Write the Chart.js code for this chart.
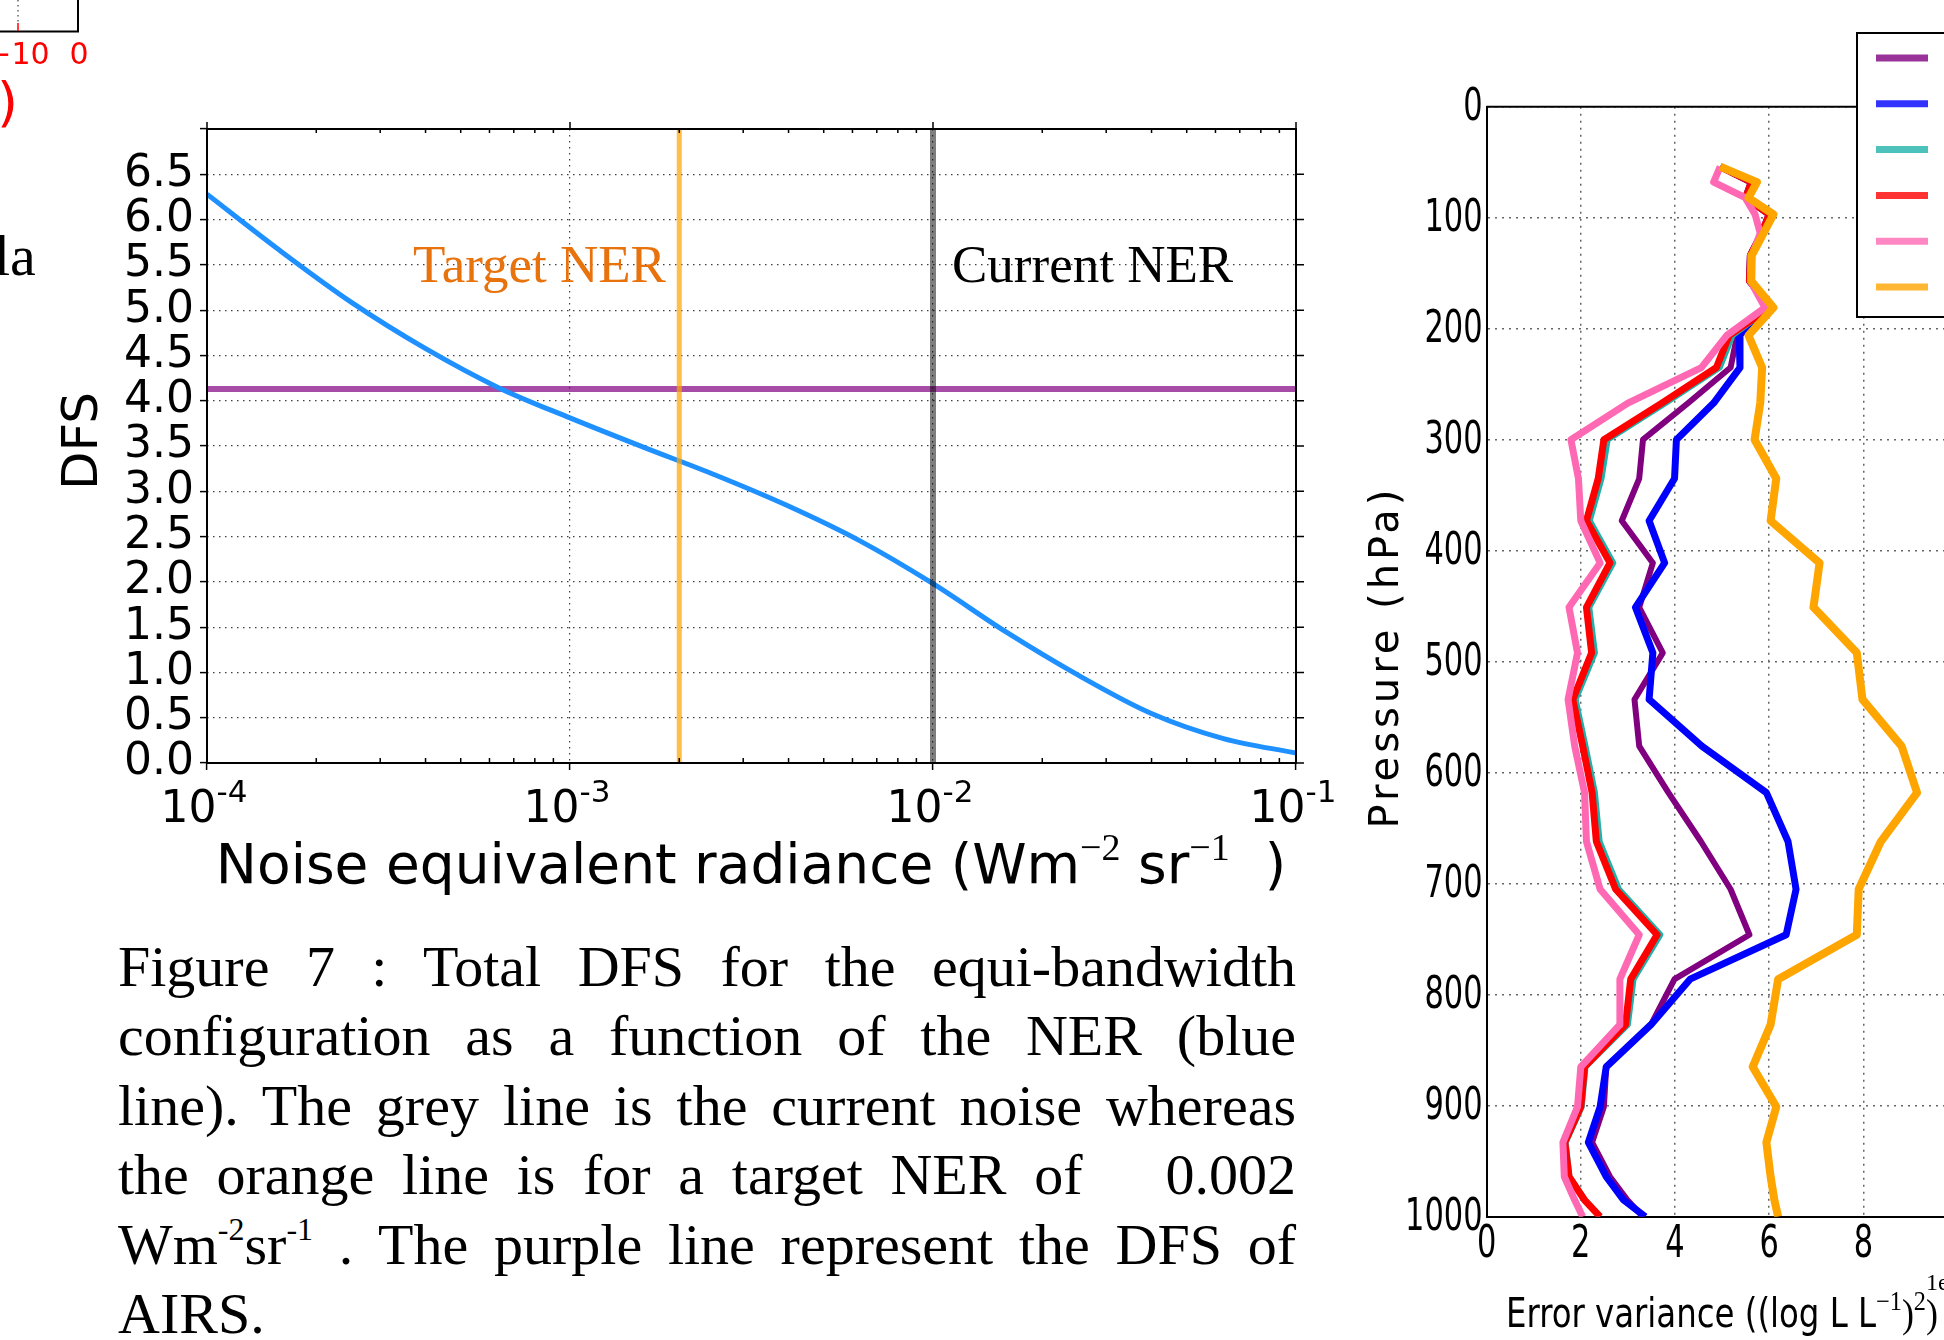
<!DOCTYPE html>
<html>
<head>
<meta charset="utf-8">
<script src="https://cdn.jsdelivr.net/npm/chart.js@4.4.0/dist/chart.umd.min.js"></script>
<style>
  html, body { margin: 0; padding: 0; background: #fff; }
  body { width: 1944px; height: 1340px; overflow: hidden; position: relative; }
  #dfsChart { position: absolute; left: 0; top: 0; }
  #errChart { position: absolute; left: 1340px; top: 0; }
  #caption { position: absolute; left: 118px; top: 932px; width: 1178px;
    font-family: 'Liberation Serif', 'DejaVu Serif', serif; font-size: 58px; line-height: 69.4px; color: #000; }
  #caption div { text-align: justify; text-align-last: justify; }
  #caption div.last { text-align-last: left; }
  #caption sup { font-size: 32px; line-height: 0; vertical-align: 24px; }
</style>
</head>
<body>
<canvas id="dfsChart" width="1340" height="930"></canvas>
<canvas id="errChart" width="800" height="1340"></canvas>
<div id="caption">
  <div>Figure 7 : Total DFS for the equi-bandwidth</div>
  <div>configuration as a function of the NER (blue</div>
  <div>line). The grey line is the current noise whereas</div>
  <div>the orange line is for a target NER of &nbsp; 0.002</div>
  <div>Wm<sup>-2</sup>sr<sup>-1</sup> . The purple line represent the DFS of</div>
  <div class="last">AIRS.</div>
</div>
<script>
// left chart: total DFS vs noise equivalent radiance
const nerValues = [1e-4, 1.585e-4, 2.512e-4, 3.981e-4, 6.31e-4, 1e-3, 1.585e-3, 2.512e-3, 3.981e-3, 6.31e-3, 1e-2, 1.585e-2, 2.512e-2, 3.981e-2, 6.31e-2, 1e-1];
const dfsValues = [6.28, 5.66, 5.08, 4.58, 4.15, 3.81, 3.49, 3.18, 2.84, 2.45, 1.98, 1.45, 0.97, 0.55, 0.27, 0.11];
const airsDfs = 4.13;
const targetNer = 0.002;
const currentNer = 0.01;
const nerTicks = [1e-4, 1e-3, 1e-2, 1e-1];

// right chart: error variance profiles
const pressureLevels = [54, 68, 82, 97, 114, 134, 157, 181, 206, 235, 267, 300, 335, 373, 411, 451, 492, 534, 576, 618, 662, 705, 746, 786, 827, 865, 901, 933, 964, 985, 1000];
const purpleErr = [4.96, 5.62, 5.50, 6.00, 5.84, 5.60, 5.58, 6.02, 5.32, 5.18, 4.28, 3.32, 3.24, 2.87, 3.53, 3.24, 3.74, 3.14, 3.24, 3.86, 4.55, 5.18, 5.58, 3.99, 3.49, 2.54, 2.49, 2.24, 2.62, 2.99, 3.32];
const blueErr = [4.96, 5.62, 5.50, 6.00, 5.84, 5.60, 5.58, 6.02, 5.36, 5.38, 4.82, 4.03, 3.99, 3.45, 3.78, 3.16, 3.53, 3.45, 4.57, 5.94, 6.40, 6.57, 6.36, 4.32, 3.49, 2.54, 2.41, 2.16, 2.54, 2.91, 3.37];
const tealErr = [4.96, 5.62, 5.50, 6.00, 5.84, 5.60, 5.58, 6.02, 5.22, 4.95, 3.80, 2.57, 2.44, 2.19, 2.69, 2.18, 2.30, 1.89, 2.10, 2.30, 2.40, 2.81, 3.69, 3.12, 3.00, 2.10, 2.02, 1.68, 1.76, 2.09, 2.41];
const redErr = [4.96, 5.62, 5.50, 6.00, 5.84, 5.60, 5.58, 6.02, 5.15, 4.88, 3.72, 2.49, 2.37, 2.12, 2.62, 2.12, 2.23, 1.83, 2.04, 2.24, 2.33, 2.74, 3.62, 3.06, 2.95, 2.08, 2.00, 1.66, 1.75, 2.08, 2.41];
const pinkErr = [4.96, 4.82, 5.49, 5.70, 5.81, 5.63, 5.60, 5.91, 5.10, 4.56, 3.00, 1.79, 1.95, 2.00, 2.41, 1.75, 1.93, 1.73, 1.87, 2.08, 2.12, 2.41, 3.24, 2.83, 2.83, 2.00, 1.93, 1.62, 1.65, 1.87, 2.04];
const orangeErr = [4.96, 5.74, 5.56, 6.09, 5.88, 5.63, 5.62, 6.09, 5.56, 5.85, 5.81, 5.69, 6.15, 6.03, 7.07, 6.94, 7.86, 7.98, 8.81, 9.14, 8.37, 7.90, 7.86, 6.19, 6.03, 5.65, 6.15, 5.94, 6.03, 6.11, 6.19];

const mainFont = "'DejaVu Sans'";
const serifFont = "'Liberation Serif', 'DejaVu Serif', serif";
const narrowFont = "'Liberation Sans Narrow', 'DejaVu Sans Condensed', 'Arial Narrow', sans-serif";

const toPoints = (xs, ys) => xs.map((v, i) => ({ x: v, y: ys[i] }));
const profile = vals => pressureLevels.map((p, i) => ({ x: vals[i], y: p }));

// draws text pieces one after another, [text, font, dy]
function drawPieces(ctx, pieces, x0, baseline) {
  let x = x0;
  pieces.forEach(([t, f, dy]) => {
    ctx.font = f;
    ctx.fillText(t, x, baseline - (dy || 0));
    x += ctx.measureText(t).width;
  });
}
function piecesWidth(ctx, pieces) {
  let w = 0;
  pieces.forEach(([t, f]) => { ctx.font = f; w += ctx.measureText(t).width; });
  return w;
}
// narrow-looking label: squeeze horizontally
function squeezedText(ctx, text, x, y, k, align) {
  ctx.save();
  ctx.translate(x, y);
  ctx.scale(k, 1);
  ctx.textAlign = align;
  ctx.fillText(text, 0, 0);
  ctx.restore();
}

const dfsDecor = {
  id: 'dfsDecor',
  afterDraw(chart) {
    const { ctx, chartArea: { left, right, top, bottom }, scales: { x, y } } = chart;
    ctx.save();
    // bits of the figure above
    ctx.strokeStyle = '#000';
    ctx.lineWidth = 2;
    ctx.beginPath();
    ctx.moveTo(0, 31.5); ctx.lineTo(78, 31.5); ctx.lineTo(78, 0);
    ctx.stroke();
    ctx.strokeStyle = '#666';
    ctx.lineWidth = 1.5;
    ctx.setLineDash([1.5, 3.5]);
    ctx.beginPath(); ctx.moveTo(18, 0); ctx.lineTo(18, 22); ctx.stroke();
    ctx.setLineDash([]);
    ctx.strokeStyle = '#f00';
    ctx.beginPath(); ctx.moveTo(18, 23); ctx.lineTo(18, 31); ctx.stroke();
    ctx.fillStyle = '#f00';
    ctx.textAlign = 'center';
    ctx.font = `30px ${mainFont}`;
    ctx.fillText('\u221210', 18, 64);
    ctx.fillText('0', 79, 64);
    ctx.textAlign = 'left';
    ctx.font = `54px ${mainFont}`;
    ctx.fillText(')', -3, 121);
    ctx.fillStyle = '#000';
    ctx.font = `58px ${serifFont}`;
    ctx.fillText('la', -6, 275);

    // frame
    ctx.strokeStyle = '#000';
    ctx.lineWidth = 2;
    ctx.strokeRect(left, top, right - left, bottom - top);
    // ticks on top / right, minor ticks inside
    ctx.lineWidth = 1.5;
    ctx.beginPath();
    nerTicks.forEach(v => {
      const px = x.getPixelForValue(v);
      ctx.moveTo(px, top); ctx.lineTo(px, top - 7);
    });
    y.ticks.forEach(t => {
      if (t.value >= 7) return;
      const py = y.getPixelForValue(t.value);
      ctx.moveTo(right, py); ctx.lineTo(right + 8, py);
    });
    for (let d = -4; d < -1; d++) {
      for (let m = 2; m < 10; m++) {
        const px = x.getPixelForValue(m * Math.pow(10, d));
        ctx.moveTo(px, top); ctx.lineTo(px, top + 4);
        ctx.moveTo(px, bottom); ctx.lineTo(px, bottom - 5);
      }
    }
    ctx.stroke();

    // x tick labels 10^n
    ctx.fillStyle = '#000';
    ctx.textAlign = 'left';
    nerTicks.forEach(v => {
      const exp = String(Math.round(Math.log10(v)));
      const pieces = [['10', `44px ${mainFont}`, 0], [exp, `31px ${mainFont}`, 20]];
      const w = piecesWidth(ctx, pieces);
      drawPieces(ctx, pieces, x.getPixelForValue(v) - w / 2 - 3, 822);
    });

    // x title
    const xt = [
      ['Noise equivalent radiance (Wm', `55px ${mainFont}`, 0],
      ['\u22122', `38px ${serifFont}`, 23],
      [' sr', `55px ${mainFont}`, 0],
      ['\u22121', `38px ${serifFont}`, 23],
      ['  )', `55px ${mainFont}`, 0]
    ];
    drawPieces(ctx, xt, 751 - piecesWidth(ctx, xt) / 2, 883);

    // y title
    ctx.save();
    ctx.translate(79, 441);
    ctx.rotate(-Math.PI / 2);
    ctx.textAlign = 'center';
    ctx.font = `50px ${mainFont}`;
    ctx.fillText('DFS', 0, 18);
    ctx.restore();

    // line annotations
    ctx.font = `53px ${serifFont}`;
    ctx.fillStyle = '#E8720C';
    ctx.fillText('Target NER', 413, 282);
    ctx.fillStyle = '#000';
    ctx.fillText('Current NER', 952, 282);
    ctx.restore();
  }
};

new Chart(document.getElementById('dfsChart'), {
  type: 'scatter',
  data: {
    datasets: [
      { label: 'Current NER', data: [{ x: currentNer, y: 0 }, { x: currentNer, y: 7 }],
        borderColor: 'rgba(0,0,0,0.5)', borderWidth: 6, order: 0 },
      { label: 'Target NER', data: [{ x: targetNer, y: 0 }, { x: targetNer, y: 7 }],
        borderColor: 'rgba(255,165,0,0.72)', borderWidth: 5, order: 1 },
      { label: 'DFS', data: toPoints(nerValues, dfsValues),
        borderColor: '#1E90FF', borderWidth: 5, cubicInterpolationMode: 'monotone', order: 2 },
      { label: 'AIRS', data: [{ x: nerTicks[0], y: airsDfs }, { x: nerTicks[3], y: airsDfs }],
        borderColor: 'rgba(128,0,128,0.7)', borderWidth: 6, order: 3 }
    ].map(d => Object.assign({ showLine: true, pointRadius: 0, fill: false }, d))
  },
  options: {
    responsive: false,
    animation: false,
    events: [],
    layout: { padding: { left: 0, right: 44, top: 129, bottom: 0 } },
    plugins: { legend: { display: false }, tooltip: { enabled: false } },
    scales: {
      x: {
        type: 'logarithmic', min: 1e-4, max: 1e-1,
        afterBuildTicks: s => { s.ticks = nerTicks.map(v => ({ value: v })); },
        afterFit: s => { s.height = 167; },
        ticks: { display: false },
        grid: { color: 'rgba(0,0,0,0.75)', lineWidth: 1.2, tickLength: 7, tickColor: '#000', tickWidth: 1.5 },
        border: { display: false, dash: [1.5, 4.5] }
      },
      y: {
        min: 0, max: 7,
        afterFit: s => { s.width = 207; },
        ticks: { stepSize: 0.5, autoSkip: false, padding: 6, color: '#000',
          font: { family: mainFont, size: 44, lineHeight: 1 },
          callback: v => (v >= 7 ? '' : v.toFixed(1)) },
        grid: { color: 'rgba(0,0,0,0.75)', lineWidth: 1.2, tickLength: 7, tickColor: '#000', tickWidth: 1.5 },
        border: { display: false, dash: [1.5, 4.5] }
      }
    }
  },
  plugins: [dfsDecor]
});

// right chart
const legendColors = ['#800080', '#0000FF', '#20B2AA', '#FF0000', '#FF69B4', '#FFA500'];
const errDecor = {
  id: 'errDecor',
  afterDraw(chart) {
    const { ctx, chartArea: { left, right, top, bottom }, scales: { x, y } } = chart;
    ctx.save();
    ctx.strokeStyle = '#000';
    ctx.lineWidth = 2;
    ctx.beginPath(); ctx.moveTo(left, top); ctx.lineTo(right, top); ctx.stroke();
    // legend box, labels fall off the page
    ctx.fillStyle = '#fff';
    ctx.fillRect(517, 33, 300, 284);
    ctx.strokeRect(517, 33, 300, 284);
    ctx.lineWidth = 7;
    legendColors.forEach((c, i) => {
      ctx.strokeStyle = c;
      ctx.globalAlpha = 0.8;
      ctx.beginPath();
      ctx.moveTo(536, 58 + i * 45.8); ctx.lineTo(588, 58 + i * 45.8);
      ctx.stroke();
    });
    ctx.globalAlpha = 1;
    ctx.fillStyle = '#000';

    // tick labels, condensed
    ctx.font = `44px ${narrowFont}`;
    ctx.textBaseline = 'alphabetic';
    y.ticks.forEach(t => {
      squeezedText(ctx, String(t.value), left - 4, y.getPixelForValue(t.value) + 13, 0.77, 'right');
    });
    x.ticks.forEach(t => {
      if (t.value >= 10) return;
      squeezedText(ctx, String(t.value), x.getPixelForValue(t.value), bottom + 40, 0.77, 'center');
    });

    // y title
    ctx.save();
    ctx.translate(44, 657);
    ctx.rotate(-Math.PI / 2);
    ctx.textAlign = 'center';
    ctx.font = `40px ${mainFont}`;
    ctx.letterSpacing = '4px';
    ctx.fillText('Pressure (hPa)', 0, 14);
    ctx.restore();

    // x title, fitted to the width it takes in the figure
    ctx.textAlign = 'left';
    const xt = [
      ['Error variance ((log L L', `40px ${narrowFont}`, 0],
      ['\u22121', `27px ${serifFont}`, 17],
      [')', `40px ${serifFont}`, 0],
      ['2', `27px ${serifFont}`, 17],
      [')', `40px ${serifFont}`, 0]
    ];
    const k = 432 / piecesWidth(ctx, xt);
    ctx.save();
    ctx.translate(166, 1327);
    ctx.scale(k, 1);
    drawPieces(ctx, xt, 0, 0);
    ctx.restore();
    ctx.font = `24px ${serifFont}`;
    ctx.fillText('1e-5', 586, 1290);
    ctx.restore();
  }
};

const errSeries = [
  ['purple', purpleErr, '#800080', 6, 5],
  ['blue', blueErr, '#0000FF', 7, 4],
  ['teal', tealErr, '#20B2AA', 6, 3],
  ['red', redErr, '#FF0000', 7, 2],
  ['pink', pinkErr, '#FF69B4', 7, 1],
  ['orange', orangeErr, '#FFA500', 8, 0]
];

new Chart(document.getElementById('errChart'), {
  type: 'scatter',
  data: {
    datasets: errSeries.map(([label, vals, color, w, order]) => ({
      label, data: profile(vals), borderColor: color, borderWidth: w, order,
      showLine: true, pointRadius: 0, fill: false, borderJoinStyle: 'round'
    }))
  },
  options: {
    responsive: false,
    animation: false,
    events: [],
    layout: { padding: { left: 0, right: 88.2, top: 106.7, bottom: 0 } },
    plugins: { legend: { display: false }, tooltip: { enabled: false } },
    scales: {
      x: {
        type: 'linear', min: 0, max: 12,
        afterFit: s => { s.height = 123.3; },
        ticks: { stepSize: 2, display: false },
        grid: { color: '#666', lineWidth: 1.5, drawTicks: false },
        border: { color: '#000', width: 2, dash: [2, 5] }
      },
      y: {
        type: 'linear', reverse: true, min: 0, max: 1000,
        afterFit: s => { s.width = 146.6; },
        ticks: { stepSize: 100, display: false },
        grid: { color: '#666', lineWidth: 1.5, drawTicks: false },
        border: { color: '#000', width: 2, dash: [2, 5] }
      }
    }
  },
  plugins: [errDecor]
});
</script>
</body>
</html>
